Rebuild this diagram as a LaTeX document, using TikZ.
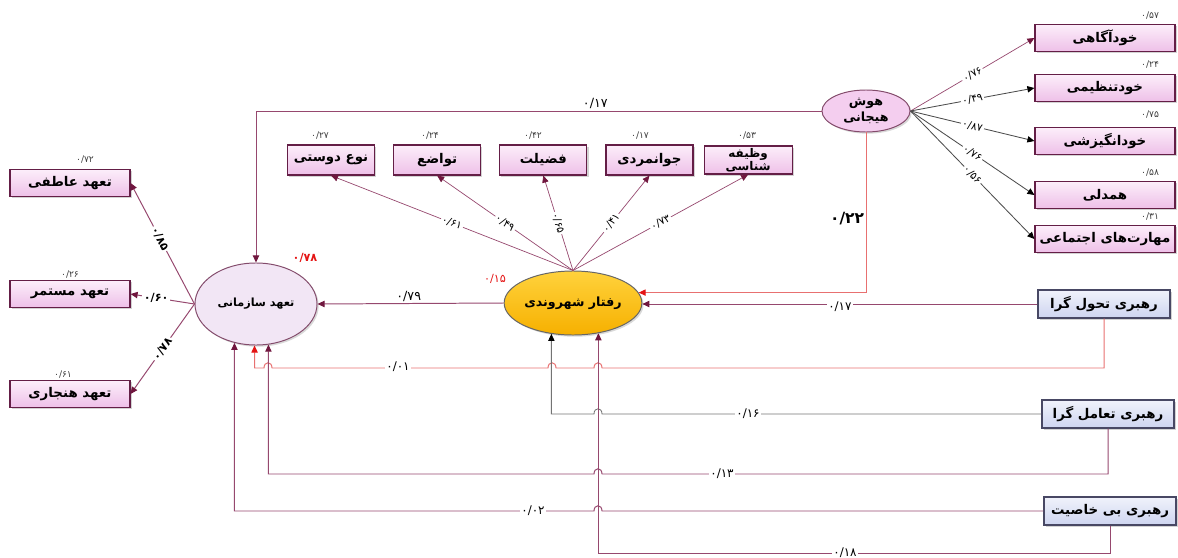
\documentclass[tikz,border=0pt]{standalone}
\usepackage{fontspec}
\usetikzlibrary{positioning,shapes.geometric,arrows.meta,shadows}
\TeXXeTstate=1
\newfontfamily\farsi[Script=Arabic]{DejaVu Sans}
\newfontfamily\numfont{DejaVu Sans}
\newcommand{\pers}[1]{{\farsi\beginR #1\endR}}
% hop of a leftward line at y=#2 over a vertical line at x=#1
\newcommand{\hop}[2]{-- (#1+4,#2) .. controls (#1+4,#2-7) and (#1-4,#2-7) .. (#1-4,#2)}

\definecolor{tipmar}{RGB}{112,22,62}
\definecolor{linemar}{RGB}{150,72,110}
\definecolor{linered}{RGB}{232,112,112}
\definecolor{tipred}{RGB}{228,20,20}
\definecolor{boxtop}{RGB}{252,238,250}
\definecolor{boxbot}{RGB}{238,192,232}
\definecolor{boxedge}{RGB}{100,30,70}
\definecolor{ocfill}{RGB}{242,230,245}
\definecolor{eifill}{RGB}{244,206,239}
\definecolor{cbtop}{RGB}{255,210,60}
\definecolor{cbbot}{RGB}{246,176,0}
\definecolor{ldtop}{RGB}{240,242,251}
\definecolor{ldbot}{RGB}{206,213,240}
\definecolor{ldedge}{RGB}{72,72,100}

\begin{document}
\begin{tikzpicture}[x=0.025cm, y=-0.025cm,
    ind/.style={draw=boxedge, line width=0.8pt, top color=boxtop, bottom color=boxbot,
      drop shadow={opacity=0.35, shadow xshift=1.2pt, shadow yshift=-1.2pt},
      minimum height=0.675cm, inner sep=1pt, align=center,
      font=\fontsize{9.5}{10}\selectfont\bfseries},
    lead/.style={ind, draw=ldedge, top color=ldtop, bottom color=ldbot,
      minimum width=3.3cm, minimum height=0.7cm},
    lat/.style={ellipse, draw=boxedge!80, line width=0.7pt, inner sep=0pt, align=center,
      drop shadow={opacity=0.3, shadow xshift=1.2pt, shadow yshift=-1.2pt},
      font=\fontsize{9}{11}\selectfont\bfseries},
    est/.style={font=\numfont\fontsize{6.5}{7}\selectfont, text=black!75, inner sep=1pt},
    coef/.style={font=\numfont\fontsize{7.5}{8}\selectfont, fill=white, inner sep=1pt},
    coefb/.style={coef, font=\numfont\fontsize{8.5}{9}\selectfont},
    rsq/.style={font=\numfont\fontsize{8}{9}\selectfont\bfseries, text=tipred, inner sep=1pt},
    arr/.style={draw=linemar, line width=0.7pt, -{Triangle[length=5pt, width=4.5pt, color=tipmar]}},
    arrk/.style={draw=black!70, line width=0.6pt, -{Triangle[length=5pt, width=4.5pt, color=black]}},
    arrred/.style={draw=linered, line width=0.7pt, -{Triangle[length=5pt, width=4.5pt, color=tipred]}}]
\useasboundingbox (0,0) rectangle (1178,558);

% latent variables
\node[lat, fill=ocfill, minimum width=3.05cm, minimum height=2.05cm,
  font=\fontsize{8}{10}\selectfont\bfseries] (OC) at (256,304) {\pers{تعهد سازمانی}};
\node[lat, draw=black!60, top color=cbtop, bottom color=cbbot,
  minimum width=3.25cm, minimum height=1.6cm] (CB) at (573,303) {\pers{رفتار شهروندی}};
\node[lat, fill=eifill, minimum width=2.2cm, minimum height=1.05cm] (EI) at (866,111)
  {\pers{هوش}\\\pers{هیجانی}};

% commitment indicators
\node[ind, minimum width=3cm] (C1) at (70,183) {\pers{تعهد عاطفی}};
\node[ind, minimum width=3cm] (C2) at (70,294) {\pers{تعهد مستمر}};
\node[ind, minimum width=3cm] (C3) at (70,394) {\pers{تعهد هنجاری}};

% citizenship indicators
\node[ind, minimum width=2.175cm, minimum height=0.75cm] (B1) at (331,160) {\pers{نوع دوستی}};
\node[ind, minimum width=2.175cm, minimum height=0.75cm, right=0.45cm of B1] (B2) {\pers{تواضع}};
\node[ind, minimum width=2.175cm, minimum height=0.75cm, right=0.45cm of B2] (B3) {\pers{فضیلت}};
\node[ind, minimum width=2.175cm, minimum height=0.75cm, right=0.45cm of B3] (B4) {\pers{جوانمردی}};
\node[ind, minimum width=2.2cm, minimum height=0.7cm, right=0.25cm of B4,
  font=\fontsize{8.5}{9}\selectfont\bfseries] (B5) {\pers{وظیفه}\\\pers{شناسی}};

% emotional intelligence indicators
\node[ind, minimum width=3.5cm] (E1) at (1105,38) {\pers{خودآگاهی}};
\node[ind, minimum width=3.5cm] (E2) at (1105,88) {\pers{خودتنظیمی}};
\node[ind, minimum width=3.5cm] (E3) at (1105,141) {\pers{خودانگیزشی}};
\node[ind, minimum width=3.5cm] (E4) at (1105,195) {\pers{همدلی}};
\node[ind, minimum width=3.5cm] (E5) at (1105,239) {\pers{مهارت‌های اجتماعی}};

% leadership styles
\node[lead] (TL) at (1104,304) {\pers{رهبری تحول گرا}};
\node[lead] (XL) at (1108,414) {\pers{رهبری تعامل گرا}};
\node[lead] (LF) at (1110,511) {\pers{رهبری بی خاصیت}};

% estimates
\node[est] (rC1) at (85,160) {۰/۷۲};
\node[est] (rC2) at (70,275) {۰/۲۶};
\node[est] (rC3) at (63,375) {۰/۶۱};
\node[est] (rB1) at (320,136) {۰/۲۷};
\node[est] (rB2) at (430,136) {۰/۲۴};
\node[est] (rB3) at (533,136) {۰/۴۲};
\node[est] (rB4) at (640,136) {۰/۱۷};
\node[est] (rB5) at (747,136) {۰/۵۳};
\node[est] (rE1) at (1150,16) {۰/۵۷};
\node[est] (rE2) at (1150,65) {۰/۲۴};
\node[est] (rE3) at (1150,115) {۰/۷۵};
\node[est] (rE4) at (1150,173) {۰/۵۸};
\node[est] (rE5) at (1150,217) {۰/۳۱};
\node[rsq] (rOC) at (305,258) {۰/۷۸};
\node[rsq, font=\numfont\fontsize{8}{9}\selectfont] (rCB) at (495,279) {۰/۱۵};

% measurement paths
\draw[arr] (OC.west) -- node[coef, sloped, pos=0.54, font=\numfont\fontsize{8}{9}\selectfont\bfseries] (p1) {۰/۸۵} (C1.east);
\draw[arr] (OC.west) -- node[coef, pos=0.6, font=\numfont\fontsize{8}{9}\selectfont\bfseries] (p2) {۰/۶۰} (C2.east);
\draw[arr] (OC.west) -- node[coef, sloped, pos=0.5, font=\numfont\fontsize{8}{9}\selectfont\bfseries] (p3) {۰/۷۸} (C3.east);

\draw[arr, line width=0.5pt] (CB.north) -- node[coef, sloped] (p4) {۰/۶۱} (B1.south);
\draw[arr, line width=0.5pt] (CB.north) -- node[coef, sloped] (p5) {۰/۴۹} (B2.south);
\draw[arr, line width=0.5pt] (CB.north) -- node[coef, sloped] (p6) {۰/۶۵} (B3.south);
\draw[arr, line width=0.5pt] (CB.north) -- node[coef, sloped] (p7) {۰/۴۱} (B4.south);
\draw[arr, line width=0.5pt] (CB.north) -- node[coef, sloped] (p8) {۰/۷۳} (B5.south);

\draw[arr, line width=0.5pt] (EI.east) -- node[coef, sloped] (p9) {۰/۷۶} (E1.west);
\draw[arrk] (EI.east) -- node[coef, sloped] (p10) {۰/۴۹} (E2.west);
\draw[arrk] (EI.east) -- node[coef, sloped] (p11) {۰/۸۷} (E3.west);
\draw[arrk] (EI.east) -- node[coef, sloped] (p12) {۰/۷۶} (E4.west);
\draw[arrk] (EI.east) -- node[coef, sloped] (p13) {۰/۵۶} (E5.west);

% structural paths
\draw[arr] (EI.west) -| node[coef, fill=none, above, pos=0.2, font=\numfont\fontsize{9}{10}\selectfont] (p14) {۰/۱۷} (OC.north);
\draw[arrred] (EI.south) |- node[coef, fill=none, left, pos=0.27, font=\numfont\fontsize{11}{12}\selectfont\bfseries] (p15) {۰/۲۲} (CB.9);
\draw[arr] (CB.west) -- node[coef, fill=none, above, pos=0.51, font=\numfont\fontsize{9}{10}\selectfont] (p16) {۰/۷۹} (OC.east);
\draw[arr] (TL.west) -- node[coefb, pos=0.5, yshift=-2pt] (p17) {۰/۱۷} (CB.east |- TL.west);

\draw[arrred] (TL.south) |- (700,368) \hop{598}{368} \hop{552}{368} \hop{268}{368} -| (OC.-92);
\node[coefb] (p18) at (398,367) {۰/۰۱};

\draw[arrk, draw=black!55] (XL.west) -- (700,414) \hop{598}{414} -| (CB.-125);
\node[coefb] (p19) at (748,414) {۰/۱۶};

\draw[arr] (XL.south) |- (700,474) \hop{598}{474} -| (OC.-73);
\node[coefb] (p20) at (722,474) {۰/۱۳};

\draw[arr] (LF.west) -- (700,511) \hop{598}{511} -| (OC.-119);
\node[coefb] (p21) at (533,511) {۰/۰۲};

\draw[arr] (LF.south) -- ++(0,28) -| (CB.-50);
\node[coefb] (p22) at (845,553) {۰/۱۸};
\end{tikzpicture}
\end{document}
